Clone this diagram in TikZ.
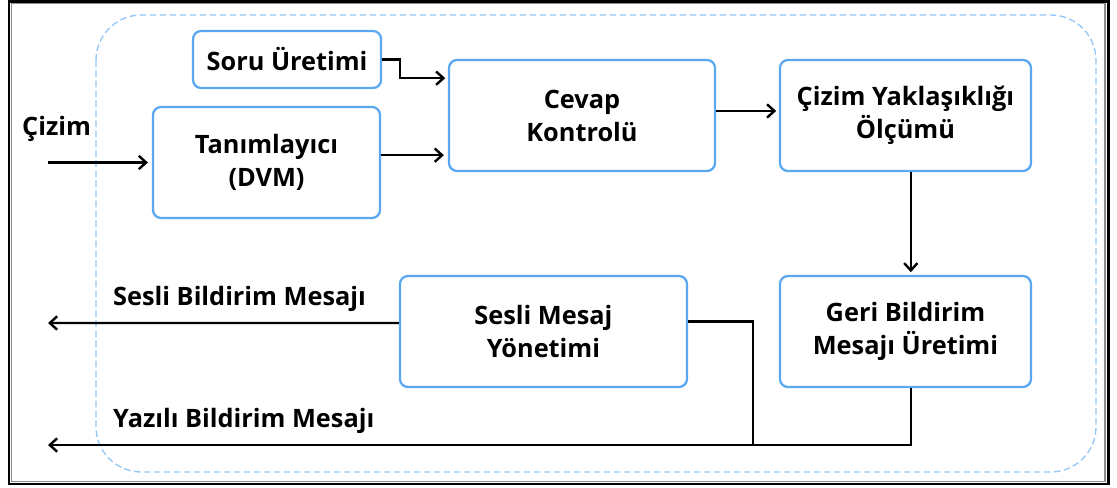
\documentclass[tikz,border=0pt]{standalone}
\usepackage{fontspec}
\setmainfont{Open Sans}
\usepackage{tikz}
\usetikzlibrary{positioning,arrows.meta}

\definecolor{boxblue}{HTML}{5AA8F2}
\definecolor{dashblue}{HTML}{94C7F7}

\begin{document}
\begin{tikzpicture}[x=0.75pt,y=-0.75pt,>={Straight Barb[length=5.5pt,width=10pt]},
   line width=1.8pt,on grid,
   blk/.style={draw=boxblue,line width=1.7pt,rounded corners=6pt,align=center,
     font=\fontsize{19}{24.75}\selectfont\bfseries,inner sep=2pt},
   lbl/.style={font=\fontsize{19}{24.75}\selectfont\bfseries,inner sep=0pt}]
 \useasboundingbox (0,0) rectangle (1117,488);
 % frame
 \draw[line width=1.6pt] (9,1.5) rectangle (1108.5,484);
 \draw[black!45,line width=0.8pt] (11.5,3.5) rectangle (1105,481.5);
 \draw[dashblue,dash pattern=on 5pt off 2.5pt,line width=1pt,rounded corners=34pt] (96,15) rectangle (1096,472);
 % blocks
 \node[blk,minimum width=199.5pt,minimum height=83.25pt] (C) at (582,115.5) {Cevap\\Kontrolü};
 \node[blk,minimum width=188.25pt,minimum height=83.25pt] (Y) [right=242.6pt of C] {Çizim Yaklaşıklığı\\Ölçümü};
 \node[blk,minimum width=188.25pt,minimum height=83.25pt] (G) [below=162pt of Y] {Geri Bildirim\\Mesajı Üretimi};
 \node[blk,minimum width=215.25pt,minimum height=83.25pt] (M) [left=271.5pt of G] {Sesli Mesaj\\Yönetimi};
 \node[blk,minimum width=170.25pt,minimum height=83.25pt] (T) [below left=35.25pt and 236.6pt of C] {Tanımlayıcı\\(DVM)};
 \node[blk,minimum width=141pt,minimum height=42.75pt] (S) [above right=77.25pt and 15.4pt of T] {Soru Üretimi};
 % free ends
 \coordinate (in) at (48,162.5);
 \coordinate (oS) at (48,323);
 \coordinate (oY) at (48,445);
 \coordinate (jn) at (753,445);
 \node[lbl,anchor=south west] (lc) at (21,143) {Çizim};
 \node[lbl,anchor=south west] (ls) at (112,313) {Sesli Bildirim Mesajı};
 \node[lbl,anchor=south west] (ly) at (112,435) {Yazılı Bildirim Mesajı};
 % connectors
 \draw[->,shorten >=3pt] (in) -- (T.west);
 \draw[->,shorten >=3pt] ([yshift=5.5pt]T.east) -- ([yshift=5.5pt]T.east -| C.west);
 \draw[->,shorten >=2pt] (S.east) -- ++(13.5pt,0) |- ([yshift=28pt]C.west);
 \draw[->,shorten >=2pt] ([yshift=3.4pt]C.east) -- ([yshift=3.4pt]Y.west);
 \draw[->,shorten >=2pt] ([xshift=4pt]Y.south) -- ([xshift=4pt]G.north);
 \draw[->] ([yshift=6.4pt]M.west) -- (oS);
 \draw ([yshift=7.5pt]M.east) -| (jn);
 \draw[->] ([xshift=4pt]G.south) |- (oY);
\end{tikzpicture}
\end{document}
